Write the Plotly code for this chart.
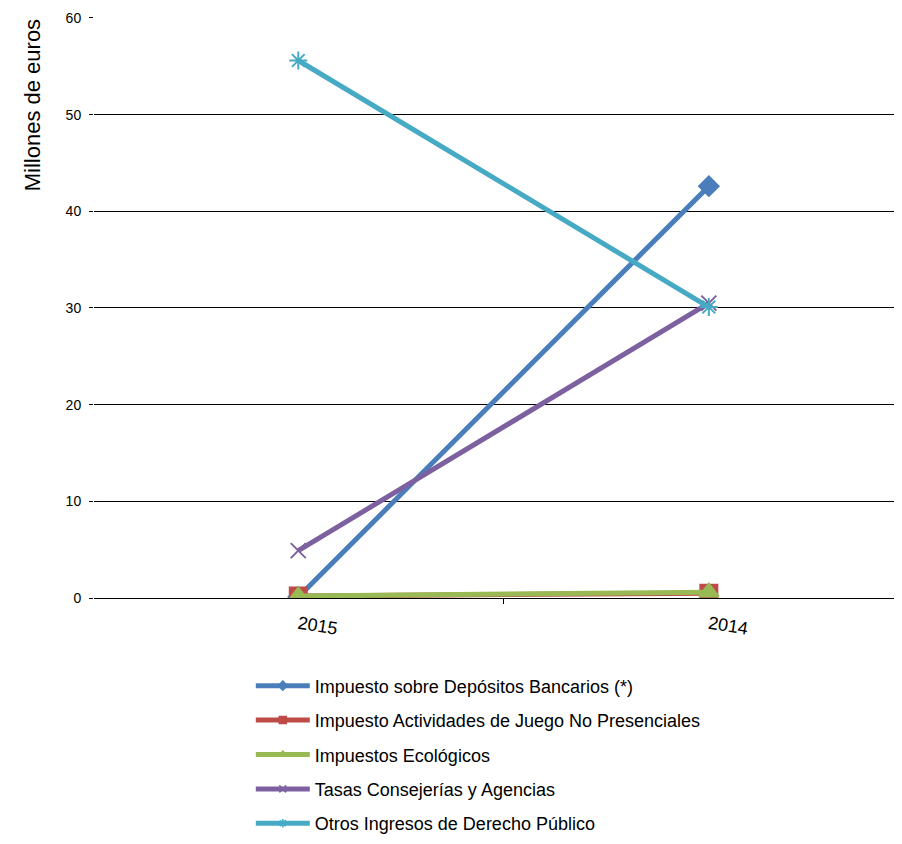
import plotly.graph_objects as go

categories = ["2015", "2014"]
series_names = [
    "Impuesto sobre Depósitos Bancarios (*)",
    "Impuesto Actividades de Juego No Presenciales",
    "Impuestos Ecológicos",
    "Tasas Consejerías y Agencias",
    "Otros Ingresos de Derecho Público",
]
depositos = [0.1, 42.6]
juego = [0.2, 0.5]
ecologicos = [0.2, 0.6]
tasas = [4.9, 30.5]
otros = [55.6, 30.1]
y_ticks = [0, 10, 20, 30, 40, 50, 60]

values = [depositos, juego, ecologicos, tasas, otros]
colors = ["#4A7EBB", "#BE4B48", "#98B954", "#7D60A0", "#46AAC5"]
symbols = ["diamond", "square", "triangle-up", "x-thin-open", "asterisk-open"]
sizes = [15, 17, 17, 15, 15]

fig = go.Figure()
for i, (name, vals) in enumerate(zip(series_names, values)):
    fig.add_trace(go.Scatter(
        x=categories, y=vals, name=name, mode="lines+markers",
        showlegend=False,
        line=dict(color=colors[i], width=5),
        marker=dict(symbol=symbols[i], size=sizes[i], color=colors[i],
                    line=dict(color=colors[i], width=2)),
    ))
# legend entries (small markers, like the reference legend)
for i, name in enumerate(series_names):
    fig.add_trace(go.Scatter(
        x=[None], y=[None], name=name, mode="lines+markers",
        legendgroup=str(i), showlegend=True,
        line=dict(color=colors[i], width=5),
        marker=dict(symbol=symbols[i], size=7, color=colors[i],
                    line=dict(color=colors[i], width=1.5)),
    ))

fig.update_layout(
    width=886, height=828,
    margin=dict(l=86, r=0, t=9, b=238, autoexpand=False),
    paper_bgcolor="white", plot_bgcolor="white",
    font=dict(family="Liberation Sans, Arial, sans-serif", color="#000000"),
    showlegend=True,
    legend=dict(
        x=0.196, y=-0.1196, xanchor="left", yanchor="top",
        font=dict(size=18, color="#000000"),
        tracegroupgap=8, itemwidth=54,
        bgcolor="rgba(0,0,0,0)",
    ),
    annotations=[dict(
        text="Millones de euros", textangle=-90,
        xref="paper", yref="paper", x=-0.0775, y=0.848,
        xanchor="center", yanchor="middle", showarrow=False,
        font=dict(size=22, color="#000000"),
    )],
)
fig.update_xaxes(
    type="category", categoryorder="array", categoryarray=categories,
    range=[-0.4976, 1.451], automargin=False,
    showgrid=False, showline=True, linecolor="#000000", linewidth=1,
    ticks="outside", tickson="boundaries", ticklen=5, tickcolor="#000000",
    tickangle=9, tickfont=dict(size=18), ticklabelstandoff=8,
    zeroline=False,
)
fig.update_yaxes(
    range=[0, 60.1], tickvals=y_ticks, automargin=False,
    showgrid=True, gridcolor="#000000", gridwidth=1,
    showline=False, zeroline=False,
    ticks="outside", ticklen=4, tickcolor="#000000",
    tickfont=dict(size=14), ticklabelstandoff=5,
)

fig.write_html("out.html")
